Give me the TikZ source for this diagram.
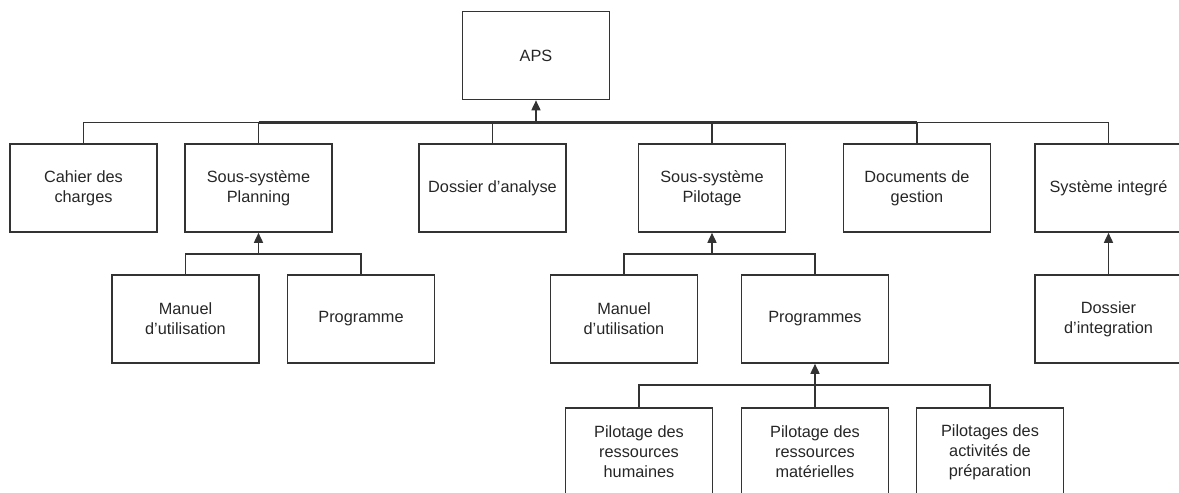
\documentclass[tikz,border=0pt]{standalone}
\usepackage{fontspec}
\setmainfont{Liberation Sans}
\usepackage{tikz}
\usetikzlibrary{arrows.meta}
\usetikzlibrary{calc}

\begin{document}
\begin{tikzpicture}[
        x=1pt, y=-1pt, % un point par pixel de l'image
        font=\fontsize{16.3}{20}\selectfont,
        boite/.style={draw=black!80, line width=1.6pt, minimum width=147pt, minimum height=88pt, inner sep=0pt, align=center, text=black!85}, % Style des blocs
        lien/.style={draw=black!80, line width=1.6pt}, % Style des liaisons
        fleche/.style={lien, -{Triangle[length=10pt, width=9pt]}} % Liaison avec flèche
    ]
        \clip (0,0) rectangle (1179,493);

        % --- Niveau 0 ---
        \node[boite] (aps) at (536,55.5) {APS};

        % --- Niveau 1 ---
        \node[boite] (cahier) at (83.5,188) {Cahier des\\charges};
        \node[boite] (planning) at (258.5,188) {Sous-système\\Planning};
        \node[boite] (analyse) at (492.5,188) {Dossier d’analyse};
        \node[boite] (pilotage) at (712,188) {Sous-système\\Pilotage};
        \node[boite] (gestion) at (917,188) {Documents de\\gestion};
        \node[boite] (integre) at (1108.5,188) {Système integré};

        % --- Niveau 2 ---
        \node[boite] (manuelP) at (185.5,319) {Manuel\\d’utilisation};
        \node[boite] (programme) at (361,319) {Programme};
        \node[boite] (manuelS) at (624,319) {Manuel\\d’utilisation};
        \node[boite] (programmes) at (815,319) {Programmes};
        \node[boite] (dintegration) at (1108.5,319) {Dossier\\d’integration};

        % --- Niveau 3 ---
        \node[boite] (humaines) at (639,452) {Pilotage des\\ressources\\humaines};
        \node[boite] (materielles) at (815,452) {Pilotage des\\ressources\\matérielles};
        \node[boite] (preparation) at (990,452) {Pilotages des\\activités de\\préparation};

        % --- Bus de liaison ---
        \coordinate (busAPS) at ([yshift=-22pt]aps.south);
        \coordinate (busPlanning) at ([yshift=-21pt]planning.south);
        \coordinate (busPilotage) at ([yshift=-21pt]pilotage.south);
        \coordinate (busProgrammes) at ([yshift=-21pt]programmes.south);

        % --- Liaisons vers APS ---
        \foreach \n in {cahier,planning,analyse,pilotage,gestion,integre}
            \draw[lien] (\n.north) |- (busAPS);
        % tronçon central plus épais (liaisons superposées)
        \draw[lien, line width=2.8pt] (planning.north |- busAPS) -- (gestion.north |- busAPS);
        \draw[fleche] (busAPS) -- (aps.south);

        % --- Liaisons vers Planning ---
        \foreach \n in {manuelP,programme}
            \draw[lien] (\n.north) |- (busPlanning);
        \draw[fleche] (busPlanning) -- (planning.south);

        % --- Liaisons vers Pilotage ---
        \foreach \n in {manuelS,programmes}
            \draw[lien] (\n.north) |- (busPilotage);
        \draw[fleche] (busPilotage) -- (pilotage.south);

        % --- Liaisons vers Programmes ---
        \foreach \n in {humaines,materielles,preparation}
            \draw[lien] (\n.north) |- (busProgrammes);
        \draw[fleche] (busProgrammes) -- (programmes.south);

        % Système integré
        \draw[fleche] (dintegration.north) -- (integre.south);

    \end{tikzpicture}
\end{document}
